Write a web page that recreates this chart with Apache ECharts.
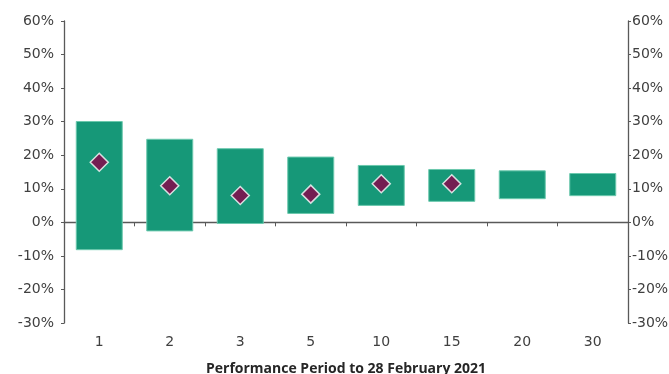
<!DOCTYPE html>
<html><head><meta charset="utf-8">
<script src="https://cdn.jsdelivr.net/npm/echarts@6/dist/echarts.min.js"></script>
<style>html,body{margin:0;padding:0;background:#fff}#c{width:669px;height:374px}</style>
</head><body><div id="c"></div>
<script>
const categories = ['1','2','3','5','10','15','20','30'];
const rangeMin = [-8.3, -2.7, -0.5, 2.5, 4.9, 6.1, 6.9, 7.8];
const rangeMax = [30.2, 24.9, 22.1, 19.6, 17.1, 15.9, 15.5, 14.7];
const current = [17.9, 10.9, 8.0, 8.4, 11.5, 11.5, null, null];
const yTicks = {min: -30, max: 60, interval: 10};

const span = rangeMax.map((v, i) => +(v - rangeMin[i]).toFixed(2));
const font = 'DejaVu Sans';
const titleFont = 'Open Sans';
const axisColor = '#595959';
const labelColor = '#404040';

const chart = echarts.init(document.getElementById('c'));
const yAx = (pos, margin) => ({
  type: 'value', position: pos, min: yTicks.min, max: yTicks.max, interval: yTicks.interval,
  axisLine: {show: true, lineStyle: {color: axisColor, width: 1.3}},
  axisTick: {show: true, length: 3, inside: false, lineStyle: {color: axisColor}},
  splitLine: {show: false},
  axisLabel: {formatter: v => v + '%', color: labelColor, fontFamily: font, fontSize: 14, margin: margin}
});
chart.setOption({
  animation: false,
  grid: {left: 64, right: 41, top: 21, bottom: 51, containLabel: false, outerBoundsMode: 'none'},
  xAxis: [
    {type: 'category', data: categories,
     axisLine: {onZero: true, lineStyle: {color: axisColor, width: 1.3}},
     axisTick: {show: true, length: 4, lineStyle: {color: axisColor}},
     axisLabel: {show: false}},
    {type: 'category', data: categories, position: 'bottom',
     axisLine: {show: false, onZero: false}, axisTick: {show: false},
     axisLabel: {color: labelColor, fontFamily: font, fontSize: 14, margin: 12},
     name: 'Performance Period to 28 February 2021', nameLocation: 'middle', nameGap: 39,
     nameTextStyle: {color: '#262626', fontFamily: titleFont, fontSize: 14, fontWeight: 'bold'}}
  ],
  yAxis: [yAx('left', 10), yAx('right', 4)],
  series: [
    {type: 'bar', stack: 'r', stackStrategy: 'all', data: rangeMin, barWidth: 47,
     itemStyle: {color: 'transparent'}, silent: true},
    {type: 'bar', stack: 'r', stackStrategy: 'all', data: span, barWidth: 47,
     itemStyle: {color: '#169878', borderColor: '#6cc9ae', borderWidth: 1}},
    {type: 'scatter', data: current, symbol: 'diamond', symbolSize: [18, 18], z: 5,
     itemStyle: {color: '#8c0048', borderColor: '#ffffff', borderWidth: 1.5}}
  ]
});
</script></body></html>
